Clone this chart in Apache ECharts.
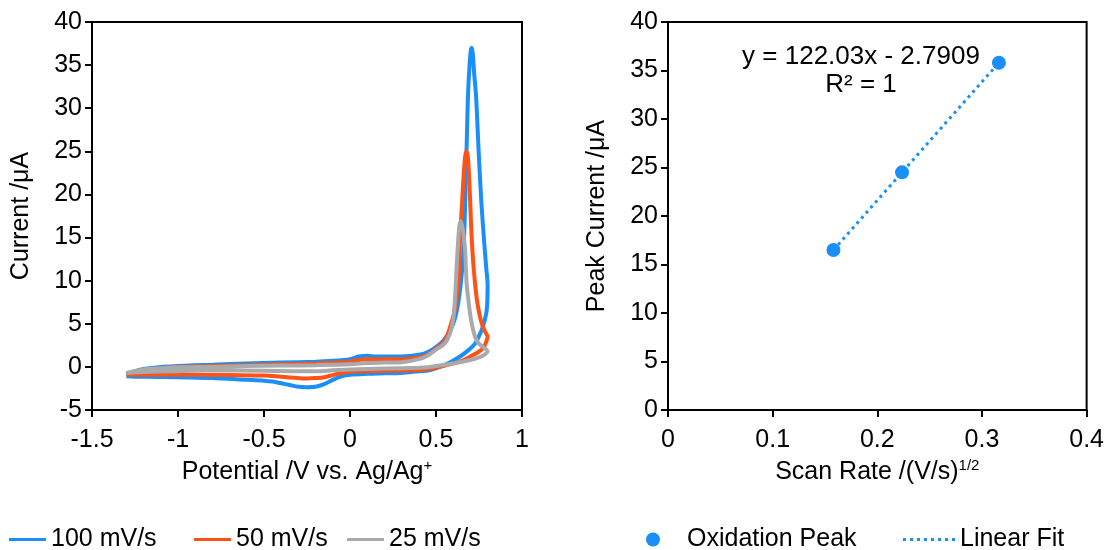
<!DOCTYPE html>
<html>
<head>
<meta charset="utf-8">
<script src="https://cdn.jsdelivr.net/npm/echarts@6/dist/echarts.min.js"></script>
<style>html,body{margin:0;padding:0;background:#fff}#c{width:1107px;height:550px}</style>
</head>
<body>
<div id="c"></div>
<script>
// ---- Data ----
const potential100 = [-1.3,-1.25,-1.2,-1.1,-1.0,-0.8,-0.6,-0.4,-0.2,-0.1,0.0,0.05,0.1,0.15,0.2,0.3,0.4,0.45,0.5,0.55,0.6,0.63,0.655,0.665,0.672,0.68,0.686,0.695,0.703,0.708,0.714,0.722,0.733,0.748,0.764,0.78,0.792,0.8,
  0.795,0.78,0.766,0.727,0.68,0.64,0.58,0.523,0.46,0.4,0.3,0.2,0.1,0.0,-0.05,-0.1,-0.15,-0.2,-0.25,-0.3,-0.35,-0.4,-0.45,-0.5,-0.6,-0.8,-1.0,-1.2,-1.3];
const current100 = [-0.9,-0.5,-0.25,0.0,0.1,0.25,0.4,0.5,0.6,0.7,0.9,1.2,1.3,1.2,1.2,1.2,1.4,1.7,2.3,3.2,5.0,7.5,12,16,21,27,31.5,35,36.8,37,36.3,34,31.4,25,19,14.5,11.5,9.5,
  6.6,5.2,4.3,2.7,1.8,1.2,0.5,0.0,-0.4,-0.5,-0.7,-0.75,-0.8,-0.9,-1.1,-1.5,-2.0,-2.3,-2.35,-2.3,-2.1,-1.9,-1.7,-1.6,-1.5,-1.3,-1.2,-1.15,-1.1];

const potential50 = [-1.3,-1.2,-1.1,-1.0,-0.8,-0.6,-0.4,-0.2,0.0,0.05,0.1,0.2,0.3,0.4,0.45,0.5,0.55,0.58,0.61,0.63,0.64,0.65,0.66,0.67,0.678,0.686,0.695,0.705,0.715,0.727,0.74,0.756,0.77,0.785,0.8,
  0.79,0.775,0.745,0.717,0.66,0.6,0.54,0.484,0.4,0.2,0.0,-0.05,-0.1,-0.15,-0.2,-0.25,-0.3,-0.4,-0.5,-0.7,-0.9,-1.1,-1.3];
const current50 = [-0.9,-0.4,-0.15,0.0,0.1,0.2,0.3,0.4,0.6,0.8,0.9,0.9,0.9,1.1,1.4,2.1,3.0,4.5,6.6,9.7,15,18.5,22,24.5,25,24.2,21,16,12.5,9.7,7.5,5.8,4.8,4.1,3.5,
  2.8,2.2,1.7,1.4,0.8,0.4,0.1,-0.15,-0.35,-0.45,-0.55,-0.7,-0.95,-1.2,-1.3,-1.35,-1.3,-1.15,-1.0,-0.95,-0.9,-0.9,-0.9];

const potential25 = [-1.3,-1.2,-1.1,-1.0,-0.8,-0.6,-0.4,-0.2,0.0,0.1,0.2,0.3,0.4,0.45,0.5,0.55,0.58,0.6,0.61,0.62,0.63,0.637,0.644,0.655,0.662,0.669,0.678,0.688,0.698,0.71,0.727,0.745,0.766,0.8,
  0.78,0.75,0.7,0.6,0.5,0.45,0.4,0.2,0.0,-0.1,-0.2,-0.3,-0.5,-0.8,-1.0,-1.2,-1.3];
const current25 = [-0.7,-0.3,-0.15,-0.05,0.0,0.1,0.15,0.2,0.3,0.45,0.5,0.55,0.9,1.3,2.0,2.7,3.8,5.5,7.8,11.6,15,16.5,16.9,16.0,15.0,13.6,9.7,7.8,6.2,4.8,3.5,2.8,2.4,1.8,
  1.4,1.1,0.8,0.4,0.1,-0.05,-0.1,-0.2,-0.3,-0.4,-0.5,-0.5,-0.45,-0.4,-0.5,-0.6,-0.7];

const scanRateSqrt = [0.1581, 0.2236, 0.3162];
const peakCurrent = [16.5, 24.5, 35.8];
const fitX = [0.1581, 0.3162];
const fitY = [16.5, 35.8];

const seriesNames = ['100 mV/s', '50 mV/s', '25 mV/s', 'Oxidation Peak', 'Linear Fit'];
const equationText = 'y = 122.03x - 2.7909';
const r2Text = 'R² = 1';

// ---- Helpers ----
const zip = (xs, ys) => xs.map((x, i) => [x, ys[i]]);
const FONT = 'Liberation Sans, Arial, sans-serif';
const FS = 25;
const BLUE = '#1A8FF8', ORANGE = '#FF5216', GRAY = '#A8AAAC';
const DOTS_ICON = 'path://M0,0h3v3h-3z M7,0h3v3h-3z M14,0h3v3h-3z M21,0h3v3h-3z M28,0h3v3h-3z M35,0h3v3h-3z M42,0h3v3h-3z M49,0h3v3h-3z';

const axisCommon = {
  axisLine: { show: true, onZero: false, lineStyle: { color: '#000', width: 2 } },
  axisTick: { show: true, inside: false, length: 7, lineStyle: { color: '#000', width: 2 } },
  axisLabel: { color: '#000', fontSize: FS, fontFamily: FONT },
  splitLine: { show: false },
  nameLocation: 'middle',
  nameTextStyle: { color: '#000', fontSize: FS, fontFamily: FONT,
    rich: { sup: { fontSize: 15, fontFamily: FONT, color: '#000', verticalAlign: 'top', lineHeight: 28 } } }
};
const legendText = { color: '#000', fontSize: FS, fontFamily: FONT };

const chart = echarts.init(document.getElementById('c'), null, { renderer: 'canvas' });
chart.setOption({
  animation: false,
  backgroundColor: '#fff',
  grid: [
    { left: 92, top: 22, width: 430, height: 388, show: true, borderColor: '#000', borderWidth: 2, backgroundColor: 'transparent' },
    { left: 668, top: 22, width: 419, height: 388, show: true, borderColor: '#000', borderWidth: 2, backgroundColor: 'transparent' }
  ],
  xAxis: [
    Object.assign({}, axisCommon, { type: 'value', gridIndex: 0, min: -1.5, max: 1, interval: 0.5,
      name: 'Potential /V vs. Ag/Ag{sup|+}', nameGap: 48,
      axisLabel: Object.assign({}, axisCommon.axisLabel, { margin: 18 }) }),
    Object.assign({}, axisCommon, { type: 'value', gridIndex: 1, min: 0, max: 0.4, interval: 0.1,
      name: 'Scan Rate /(V/s){sup|1/2}', nameGap: 48,
      axisLabel: Object.assign({}, axisCommon.axisLabel, { margin: 18 }) })
  ],
  yAxis: [
    Object.assign({}, axisCommon, { type: 'value', gridIndex: 0, min: -5, max: 40, interval: 5,
      name: 'Current /μA', nameGap: 58,
      axisLabel: Object.assign({}, axisCommon.axisLabel, { margin: 10 }) }),
    Object.assign({}, axisCommon, { type: 'value', gridIndex: 1, min: 0, max: 40, interval: 5,
      name: 'Peak Current /μA', nameGap: 58,
      axisLabel: Object.assign({}, axisCommon.axisLabel, { margin: 10 }) })
  ],
  legend: [
    { data: [seriesNames[0]], left: 4, top: 522, icon: 'rect', itemWidth: 37, itemHeight: 3, textStyle: legendText },
    { data: [seriesNames[1]], left: 189, top: 522, icon: 'rect', itemWidth: 37, itemHeight: 3, textStyle: legendText },
    { data: [seriesNames[2]], left: 342, top: 522, icon: 'rect', itemWidth: 37, itemHeight: 3, textStyle: legendText },
    { data: [seriesNames[3]], left: 641, top: 522, icon: 'circle', itemWidth: 14, itemHeight: 14,
      textStyle: Object.assign({}, legendText, { padding: [0, 0, 0, 22] }) },
    { data: [seriesNames[4]], left: 898, top: 522, icon: DOTS_ICON, itemWidth: 52, itemHeight: 3, textStyle: legendText }
  ],
  series: [
    { name: seriesNames[0], type: 'line', xAxisIndex: 0, yAxisIndex: 0, data: zip(potential100, current100),
      showSymbol: false, symbol: 'none', smooth: 0.3, lineStyle: { color: BLUE, width: 4 }, itemStyle: { color: BLUE } },
    { name: seriesNames[1], type: 'line', xAxisIndex: 0, yAxisIndex: 0, data: zip(potential50, current50),
      showSymbol: false, symbol: 'none', smooth: 0.3, lineStyle: { color: ORANGE, width: 4 }, itemStyle: { color: ORANGE } },
    { name: seriesNames[2], type: 'line', xAxisIndex: 0, yAxisIndex: 0, data: zip(potential25, current25),
      showSymbol: false, symbol: 'none', smooth: 0.3, lineStyle: { color: GRAY, width: 4 }, itemStyle: { color: GRAY } },
    { name: seriesNames[4], type: 'line', xAxisIndex: 1, yAxisIndex: 1, data: zip(fitX, fitY),
      showSymbol: false, symbol: 'none', lineStyle: { color: BLUE, width: 3, type: [3, 4] }, itemStyle: { color: BLUE } },
    { name: seriesNames[3], type: 'scatter', xAxisIndex: 1, yAxisIndex: 1, data: zip(scanRateSqrt, peakCurrent),
      symbol: 'circle', symbolSize: 14, itemStyle: { color: BLUE, opacity: 1 } }
  ],
  graphic: [
    { type: 'text', x: 861, y: 44, style: { text: equationText, fill: '#000', font: '26px ' + FONT, textAlign: 'center', textVerticalAlign: 'top' } },
    { type: 'text', x: 861, y: 72, style: { text: r2Text, fill: '#000', font: '26px ' + FONT, textAlign: 'center', textVerticalAlign: 'top' } }
  ]
});
</script>
</body>
</html>
